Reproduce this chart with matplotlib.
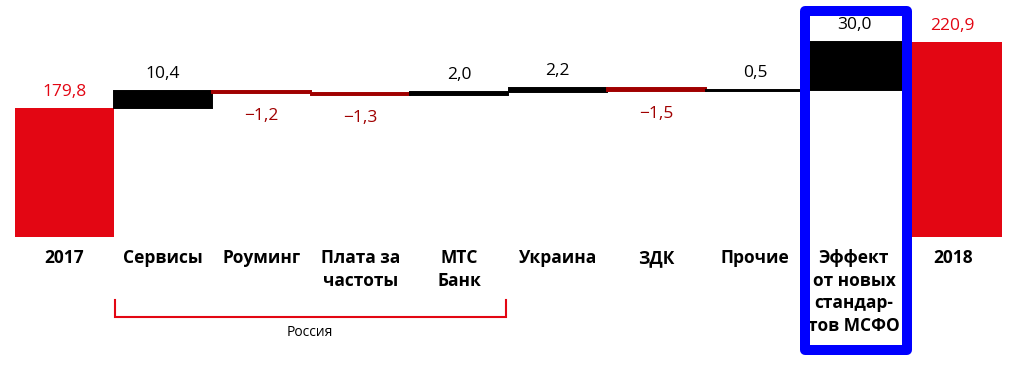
import matplotlib
matplotlib.use("Agg")
import matplotlib.pyplot as plt
import matplotlib.transforms as mtransforms
from matplotlib.patches import Rectangle
import numpy as np

plt.rcParams['font.family'] = ['Open Sans', 'DejaVu Sans']

# data
categories = ['2017', 'Сервисы', 'Роуминг', 'Плата за\nчастоты', 'МТС\nБанк',
              'Украина', 'ЗДК', 'Прочие', 'Эффект\nот новых\nстандар-\nтов МСФО', '2018']
start_value = 179.8
deltas = [10.4, -1.2, -1.3, 2.0, 2.2, -1.5, 0.5, 30.0]
end_value = 220.9
group_label = 'Россия'

RED = '#E30613'
DARK_RED = '#A00000'
BLUE = '#0000FF'

fig = plt.figure(figsize=(10.12, 3.65), dpi=100)
ax = fig.add_axes([15 / 1012, 1 - 236.7 / 365, 987 / 1012, 236.7 / 365])

def fmt(v):
    s = f"{abs(v):.1f}".replace('.', ',')
    return ('\u2212' + s) if v < 0 else s

# totals
base = 99.2
x = np.arange(len(categories))
ax.bar(x[0], start_value - base, bottom=base, width=1.0, color=RED)
ax.bar(x[-1], end_value - base, bottom=base, width=1.0, color=RED)
ax.annotate(fmt(start_value), (x[0], start_value), xytext=(0, 11), textcoords='offset points',
            ha='center', va='center', color=RED, fontsize=12.5)
ax.annotate(fmt(end_value), (x[-1], end_value), xytext=(0, 11.5), textcoords='offset points',
            ha='center', va='center', color=RED, fontsize=12.5)

# deltas
level = start_value
for i, d in enumerate(deltas, start=1):
    col = 'black' if d > 0 else DARK_RED
    bottom = level if d > 0 else level + d
    ax.bar(x[i], abs(d), bottom=bottom, width=1.0, color=col, edgecolor=col, linewidth=1.4)
    if d > 0:
        ax.annotate(fmt(d), (x[i], level + d), xytext=(0, 12.5), textcoords='offset points',
                    ha='center', va='center', color='black', fontsize=12.5)
    else:
        ax.annotate(fmt(d), (x[i], level + d), xytext=(0, -16.5), textcoords='offset points',
                    ha='center', va='center', color=DARK_RED, fontsize=12.5)
    level += d

ax.set_xlim(-0.5, len(categories) - 0.5)
ax.set_ylim(base, base + 236.7 / 1.6)
for s in ax.spines.values():
    s.set_visible(False)
ax.set_yticks([])
ax.set_xticks(x)
ax.set_xticklabels(categories, fontsize=12.5, fontweight='bold', linespacing=1.32)
ax.tick_params(axis='x', length=0, pad=9)

# Россия bracket
trans = mtransforms.blended_transform_factory(ax.transData, fig.transFigure)
y_top = 1 - 300 / 365
y_bot = 1 - 317 / 365
ax.plot([0.51, 0.51, 4.47, 4.47], [y_top, y_bot, y_bot, y_top], transform=trans,
        color=RED, lw=1.5, clip_on=False, solid_joinstyle='miter')
ax.text(2.49, 1 - 332 / 365, group_label, transform=trans, ha='center', va='center',
        fontsize=10, color='black')

# highlight box
box = Rectangle((805 / 1012, 1 - 350 / 365), 101.8 / 1012, 339 / 365, transform=fig.transFigure,
                fill=False, edgecolor=BLUE, linewidth=7.2, joinstyle='round', zorder=5)
fig.patches.append(box)

fig.savefig('out.png', dpi=100)
